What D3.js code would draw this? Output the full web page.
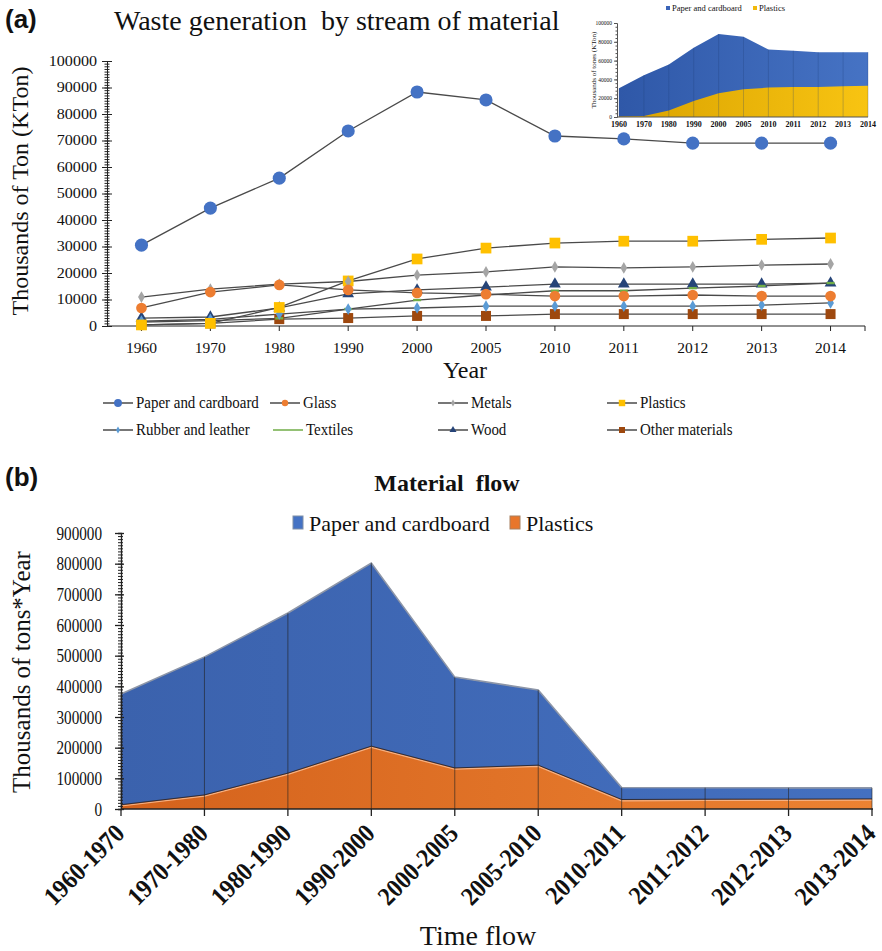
<!DOCTYPE html>
<html>
<head>
<meta charset="utf-8">
<script src="https://cdn.jsdelivr.net/npm/d3@7"></script>
<style>
  body { margin: 0; background: #fff; }
  svg { display: block; }
  text { font-family: "Liberation Serif", "Times New Roman", serif; fill: #111; }
</style>
</head>
<body>
<div id="chart"></div>
<script>
// waste generation by stream (KTon)
var years = ['1960', '1970', '1980', '1990', '2000', '2005', '2010', '2011', '2012', '2013', '2014']
var paper = [30500, 44500, 55800, 73600, 88300, 85300, 71700, 70600, 69000, 69000, 69000]
var glass = [6800, 12800, 15500, 13600, 12500, 12000, 11300, 11300, 11700, 11300, 11300]
var metals = [10900, 13900, 15800, 16800, 19200, 20400, 22300, 21900, 22300, 23000, 23400]
var plastics = [400, 1000, 7000, 17000, 25300, 29400, 31300, 32000, 32000, 32700, 33200]
var rubber = [1800, 2500, 4500, 6400, 6800, 7500, 7500, 7500, 7500, 7900, 8700]
var textiles = [1500, 2000, 2900, 6400, 9800, 11700, 13300, 13300, 14300, 15100, 16200]
var wood = [3000, 3400, 6800, 12100, 13600, 14700, 15800, 15800, 15800, 15800, 16200]
var other = [400, 1000, 2600, 3000, 3800, 3800, 4500, 4500, 4500, 4500, 4500]

// material flow (thousands of tons * year)
var flowLabels = ['1960-1970', '1970-1980', '1980-1990', '1990-2000', '2000-2005', '2005-2010', '2010-2011', '2011-2012', '2012-2013', '2013-2014']
var flowPaper = [375000, 496000, 639000, 802000, 430000, 388000, 70000, 69500, 69000, 69000]
var flowPlastics = [14000, 46000, 117000, 205000, 134000, 143000, 31000, 32000, 32300, 33000]

var series = [
  {name: 'Other materials', values: other, color: '#9e480e', shape: 'square', size: 100},
  {name: 'Wood', values: wood, color: '#264478', shape: 'triangle', size: 60},
  {name: 'Textiles', values: textiles, color: '#70ad47', shape: 'dash', size: 0},
  {name: 'Rubber and leather', values: rubber, color: '#5b9bd5', shape: 'diamond', size: 40},
  {name: 'Plastics', values: plastics, color: '#ffc000', shape: 'square', size: 115},
  {name: 'Metals', values: metals, color: '#a5a5a5', shape: 'diamond', size: 40},
  {name: 'Glass', values: glass, color: '#ed7d31', shape: 'circle', size: 90},
  {name: 'Paper and cardboard', values: paper, color: '#4472c4', shape: 'circle', size: 135}
]

var svg = d3.select('#chart').append('svg')
  .attr('width', 882)
  .attr('height', 951)

var defs = svg.append('defs')
function grad(id, c1, c2) {
  var g = defs.append('linearGradient').attr('id', id)
    .attr('x1', '0%').attr('x2', '100%').attr('y1', '0%').attr('y2', '0%')
  g.append('stop').attr('offset', '0%').attr('stop-color', c1)
  g.append('stop').attr('offset', '100%').attr('stop-color', c2)
}
grad('insetBlue', '#2f58a8', '#4673c4')
grad('insetGold', '#d9a200', '#f8c412')
grad('flowBlue', '#3b62ad', '#4470c0')
grad('flowOrange', '#d4621c', '#ec8232')

function symbolPath(shape, size) {
  var t = shape == 'circle' ? d3.symbolCircle
    : shape == 'square' ? d3.symbolSquare
    : shape == 'triangle' ? d3.symbolTriangle
    : d3.symbolDiamond
  return d3.symbol().type(t).size(size)()
}

var fmt = d3.format('d')

// ---------------- (a) ----------------
svg.append('text')
  .attr('x', 5).attr('y', 28)
  .style('font-family', '"Liberation Sans", Arial, sans-serif')
  .style('font-weight', 'bold').style('font-size', '26px')
  .text('(a)')

svg.append('text')
  .attr('x', 114).attr('y', 30)
  .style('font-size', '28px')
  .attr('xml:space', 'preserve')
  .text('Waste generation  by stream of material')

var xA = d3.scaleBand().domain(years).range([107, 865])
var yA = d3.scaleLinear().domain([0, 100000]).range([326, 61])
var cx = function(d) { return xA(d) + xA.bandwidth() / 2 }

// y axis, minor ticks
var minorA = svg.append('g').attr('transform', 'translate(107,0)')
  .call(d3.axisLeft(yA).tickValues(d3.range(0, 100001, 1000)).tickSize(2.5).tickFormat(''))
minorA.selectAll('.tick line').attr('x1', -2.5).attr('x2', 2.5).attr('stroke', '#222')
minorA.select('.domain').attr('stroke', '#222')

var gyA = svg.append('g').attr('transform', 'translate(107,0)')
  .call(d3.axisLeft(yA).ticks(10).tickFormat(fmt).tickSize(0).tickPadding(10))
gyA.select('.domain').remove()
gyA.selectAll('.tick line').attr('x1', -5).attr('x2', 5).attr('stroke', '#222')
gyA.selectAll('.tick text')
  .style('font-size', '14px')
  .style('font-family', '"Liberation Serif", serif')
  .attr('transform', 'scale(1.15,1)')
  .attr('x', -10 / 1.15)

// x axis
svg.append('line')
  .attr('x1', 107).attr('x2', 865).attr('y1', 326).attr('y2', 326)
  .attr('stroke', '#222')
svg.append('g').selectAll('line')
  .data(years.map(cx).concat([865]))
  .enter().append('line')
  .attr('x1', function(d) { return d }).attr('x2', function(d) { return d })
  .attr('y1', 326).attr('y2', 331)
  .attr('stroke', '#222')
svg.append('g').selectAll('text')
  .data(years)
  .enter().append('text')
  .attr('x', cx).attr('y', 353)
  .attr('text-anchor', 'middle')
  .style('font-size', '15.5px')
  .text(function(d) { return d })

svg.append('text')
  .attr('x', 465).attr('y', 378)
  .attr('text-anchor', 'middle')
  .style('font-size', '24px')
  .text('Year')

svg.append('text')
  .attr('transform', 'translate(28,191) rotate(-90)')
  .attr('text-anchor', 'middle')
  .style('font-size', '24px')
  .text('Thousands of Ton (KTon)')

var lineA = d3.line()
  .x(function(d, i) { return cx(years[i]) })
  .y(function(d) { return yA(d) })

var plotA = svg.append('g')
plotA.selectAll('.serLine')
  .data(series)
  .enter().append('path')
  .attr('class', 'serLine')
  .attr('d', function(s) { return lineA(s.values) })
  .attr('fill', 'none')
  .attr('stroke', '#4a4a4a')
  .attr('stroke-width', 1.3)

function drawMarker(sel, s, scale) {
  if (s.shape == 'dash') {
    sel.append('rect')
      .attr('x', -4 * scale).attr('y', -1.2 * scale)
      .attr('width', 8 * scale).attr('height', 2.4 * scale)
      .attr('fill', s.color)
  } else {
    sel.append('path')
      .attr('d', symbolPath(s.shape, s.size * scale * scale))
      .attr('fill', s.color)
  }
}

series.forEach(function(s) {
  var g = plotA.append('g')
  s.values.forEach(function(v, i) {
    var m = g.append('g').attr('transform', 'translate(' + cx(years[i]) + ',' + yA(v) + ')')
    drawMarker(m, s, 1)
  })
})

// legend (a)
var legendA = [
  {s: 'Paper and cardboard', x: 103, y: 403},
  {s: 'Glass', x: 270, y: 403},
  {s: 'Metals', x: 438, y: 403},
  {s: 'Plastics', x: 607, y: 403},
  {s: 'Rubber and leather', x: 103, y: 430},
  {s: 'Textiles', x: 273, y: 430},
  {s: 'Wood', x: 438, y: 430},
  {s: 'Other materials', x: 607, y: 430}
]
legendA.forEach(function(l) {
  var s = series.filter(function(d) { return d.name == l.s })[0]
  var g = svg.append('g').attr('transform', 'translate(' + l.x + ',' + l.y + ')')
  g.append('line').attr('x1', 0).attr('x2', 30).attr('y1', 0).attr('y2', 0)
    .attr('stroke', s.shape == 'dash' ? s.color : '#4a4a4a').attr('stroke-width', 1.5)
  if (s.shape != 'dash') {
    var m = g.append('g').attr('transform', 'translate(15,0)')
    drawMarker(m, s, 0.6)
  }
  g.append('text').attr('y', 5)
    .style('font-size', '17px')
    .attr('transform', 'scale(0.88,1)')
    .attr('x', 33 / 0.88)
    .text(s.name)
})

// inset
var xI = d3.scalePoint().domain(years).range([619, 868])
var yI = d3.scaleLinear().domain([0, 100000]).range([117, 23])
var areaI = d3.area()
  .x(function(d, i) { return xI(years[i]) })
  .y0(yI(0))
  .y1(function(d) { return yI(d) })

svg.append('path').attr('d', areaI(paper)).attr('fill', 'url(#insetBlue)')
svg.append('path').attr('d', areaI(plastics)).attr('fill', 'url(#insetGold)')
svg.append('g').selectAll('line')
  .data(years)
  .enter().append('line')
  .attr('x1', xI).attr('x2', xI)
  .attr('y1', yI(0))
  .attr('y2', function(d, i) { return yI(paper[i]) })
  .attr('stroke', '#1d3a75').attr('stroke-opacity', 0.25)

var minorI = svg.append('g').attr('transform', 'translate(617,0)')
  .call(d3.axisLeft(yI).tickValues(d3.range(0, 100001, 4000)).tickSize(1.5).tickFormat(''))
minorI.selectAll('.tick line').attr('stroke', '#555')
minorI.select('.domain').attr('stroke', '#555')
var gyI = svg.append('g').attr('transform', 'translate(617,0)')
  .call(d3.axisLeft(yI).tickValues(d3.range(0, 100001, 20000)).tickFormat(fmt).tickSize(3).tickPadding(2))
gyI.select('.domain').remove()
gyI.selectAll('.tick line').attr('stroke', '#555')
gyI.selectAll('.tick text').style('font-size', '5.5px').style('font-family', '"Liberation Serif", serif')

svg.append('line').attr('x1', 617).attr('x2', 868).attr('y1', 117).attr('y2', 117).attr('stroke', '#555')
svg.append('g').selectAll('text')
  .data(years)
  .enter().append('text')
  .attr('x', xI).attr('y', 127)
  .attr('text-anchor', 'middle')
  .style('font-size', '8px').style('font-weight', 'bold')
  .text(function(d) { return d })

svg.append('text')
  .attr('transform', 'translate(596,70) rotate(-90)')
  .attr('text-anchor', 'middle')
  .style('font-size', '7px')
  .text('Thousands of tones (KTon)')

svg.append('rect').attr('x', 666).attr('y', 6).attr('width', 4).attr('height', 4).attr('fill', '#3a64b8')
svg.append('text').attr('x', 672).attr('y', 11).style('font-size', '8.5px').text('Paper and cardboard')
svg.append('rect').attr('x', 753).attr('y', 6).attr('width', 4).attr('height', 4).attr('fill', '#f2b90a')
svg.append('text').attr('x', 759).attr('y', 11).style('font-size', '8.5px').text('Plastics')

// ---------------- (b) ----------------
svg.append('text')
  .attr('x', 5).attr('y', 486)
  .style('font-family', '"Liberation Sans", Arial, sans-serif')
  .style('font-weight', 'bold').style('font-size', '26px')
  .text('(b)')

svg.append('text')
  .attr('x', 447).attr('y', 491)
  .attr('text-anchor', 'middle')
  .style('font-size', '24px').style('font-weight', 'bold')
  .attr('xml:space', 'preserve')
  .text('Material  flow')

svg.append('rect').attr('x', 293).attr('y', 516).attr('width', 10).attr('height', 13)
  .attr('fill', '#4472c4').attr('stroke', '#7f8fa8')
svg.append('text').attr('x', 309).attr('y', 531).style('font-size', '22px').text('Paper and cardboard')
svg.append('rect').attr('x', 510).attr('y', 516).attr('width', 10).attr('height', 13)
  .attr('fill', '#e8762b').attr('stroke', '#a88060')
svg.append('text').attr('x', 526).attr('y', 531).style('font-size', '22px').text('Plastics')

var xB = d3.scalePoint().domain(flowLabels).range([121, 872])
var yB = d3.scaleLinear().domain([0, 900000]).range([809, 533])
var areaB = d3.area()
  .x(function(d, i) { return xB(flowLabels[i]) })
  .y0(yB(0))
  .y1(function(d) { return yB(d) })
var lineB = d3.line()
  .x(function(d, i) { return xB(flowLabels[i]) })
  .y(function(d) { return yB(d) })

svg.append('path').attr('d', areaB(flowPaper)).attr('fill', 'url(#flowBlue)')
svg.append('path').attr('d', lineB(flowPaper)).attr('fill', 'none')
  .attr('stroke', '#8d96a8').attr('stroke-width', 1.6)
svg.append('path').attr('d', areaB(flowPlastics)).attr('fill', 'url(#flowOrange)')
svg.append('path').attr('d', lineB(flowPlastics)).attr('fill', 'none')
  .attr('stroke', '#f4b184').attr('stroke-width', 1.2)
  .attr('transform', 'translate(0,1.3)')
svg.append('path').attr('d', lineB(flowPlastics)).attr('fill', 'none')
  .attr('stroke', '#2d2d3a').attr('stroke-width', 1)

svg.append('g').selectAll('line')
  .data(flowLabels)
  .enter().append('line')
  .attr('x1', xB).attr('x2', xB)
  .attr('y1', yB(0))
  .attr('y2', function(d, i) { return yB(flowPaper[i]) })
  .attr('stroke', '#222').attr('stroke-opacity', 0.6)

var minorB = svg.append('g').attr('transform', 'translate(121,0)')
  .call(d3.axisLeft(yB).tickValues(d3.range(0, 900001, 10000)).tickSize(3).tickFormat(''))
minorB.selectAll('.tick line').attr('x1', -3).attr('x2', 2).attr('stroke', '#222')
minorB.select('.domain').attr('stroke', '#222').attr('stroke-width', 1.3)
var gyB = svg.append('g').attr('transform', 'translate(121,0)')
  .call(d3.axisLeft(yB).ticks(9).tickFormat(fmt).tickSize(0).tickPadding(10))
gyB.select('.domain').remove()
gyB.selectAll('.tick line').attr('x1', -6).attr('x2', 3).attr('stroke', '#222').attr('stroke-width', 1.3)
gyB.selectAll('.tick text')
  .style('font-size', '19px')
  .style('font-family', '"Liberation Serif", serif')
  .attr('transform', 'scale(0.8,1)')
  .attr('x', -19 / 0.8)

svg.append('line').attr('x1', 121).attr('x2', 873).attr('y1', 809).attr('y2', 809)
  .attr('stroke', '#222').attr('stroke-width', 1.3)
svg.append('g').selectAll('line')
  .data(flowLabels)
  .enter().append('line')
  .attr('x1', xB).attr('x2', xB)
  .attr('y1', 809).attr('y2', 816)
  .attr('stroke', '#222').attr('stroke-width', 1.3)
svg.append('g').selectAll('text')
  .data(flowLabels)
  .enter().append('text')
  .attr('transform', function(d) { return 'translate(' + (xB(d) + 5) + ',835) rotate(-45) scale(0.9,1)' })
  .attr('text-anchor', 'end')
  .style('font-size', '26px').style('font-weight', 'bold')
  .text(function(d) { return d })

svg.append('text')
  .attr('x', 478).attr('y', 945)
  .attr('text-anchor', 'middle')
  .style('font-size', '28px')
  .text('Time flow')

svg.append('text')
  .attr('transform', 'translate(30,672) rotate(-90)')
  .attr('text-anchor', 'middle')
  .style('font-size', '25px')
  .text('Thousands of tons*Year')
</script>
</body>
</html>
